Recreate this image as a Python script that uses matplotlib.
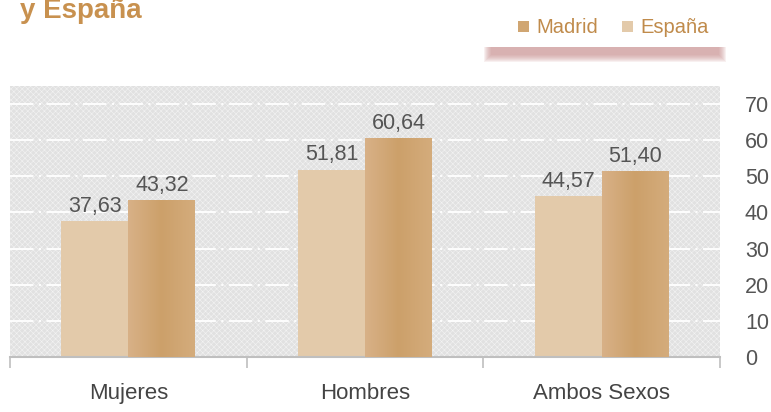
import matplotlib.pyplot as plt
import numpy as np
from matplotlib.colors import LinearSegmentedColormap
from matplotlib.patches import Rectangle

categories = ["Mujeres", "Hombres", "Ambos Sexos"]
espana = [37.63, 51.81, 44.57]
madrid = [43.32, 60.64, 51.40]
yticks = [0, 10, 20, 30, 40, 50, 60, 70]

W, H = 771, 412
madrid_col = "#d0a672"
espana_col = "#e3caaa"
label_col = "#c08b4b"
text_col = "#555555"

plt.rcParams["font.family"] = ["Liberation Sans", "DejaVu Sans"]
plt.rcParams["hatch.linewidth"] = 0.4

fig = plt.figure(figsize=(W / 100, H / 100), dpi=100)
ax = fig.add_axes([10 / W, 1 - 357 / H, 710 / W, 271 / H])

# fondo tramado
ax.set_facecolor("#e1e1e1")
bg = Rectangle((0, 0), 1, 1, transform=ax.transAxes, facecolor="none",
               edgecolor="#f3f3f3", hatch="xxxxxx", lw=0, zorder=0)
ax.add_patch(bg)

x = np.arange(len(categories))
bw = 0.283

for yv in yticks[1:]:
    ax.axhline(yv, color="white", lw=1.3, ls=(0, (13, 3, 1.2, 3)), zorder=1)

b1 = ax.bar(x - bw / 2, espana, bw, color=espana_col, zorder=2)
b2 = ax.bar(x + bw / 2, madrid, bw, color=madrid_col, zorder=2)

# degradado horizontal en las barras de Madrid
cmap = LinearSegmentedColormap.from_list("m", ["#d8b187", "#cca06a", "#d4ac7c"])
grad = np.linspace(0, 1, 100).reshape(1, -1)
for r in b2:
    x0, w, h = r.get_x(), r.get_width(), r.get_height()
    im = ax.imshow(grad, extent=[x0, x0 + w, 0, h], aspect="auto", cmap=cmap,
                   zorder=3)
    im.set_clip_path(r)

for xi, v in zip(x - bw / 2, espana):
    ax.text(xi, v + 1.2, f"{v:.2f}".replace(".", ","), ha="center", va="bottom",
            fontsize=15.5, color=text_col, zorder=4)
for xi, v in zip(x + bw / 2, madrid):
    ax.text(xi, v + 1.2, f"{v:.2f}".replace(".", ","), ha="center", va="bottom",
            fontsize=15.5, color=text_col, zorder=4)

ax.set_xlim(-0.5, 2.5)
ax.set_ylim(0, 75)

for s in ["top", "left", "right"]:
    ax.spines[s].set_visible(False)
ax.spines["bottom"].set_color("#bfbfbf")
ax.spines["bottom"].set_linewidth(1.5)

ax.yaxis.tick_right()
ax.set_yticks(yticks)
ax.tick_params(axis="y", length=0, pad=18, labelsize=15.5, labelcolor=text_col)
ax.set_xticks(x)
ax.set_xticklabels(categories)
ax.tick_params(axis="x", which="major", length=0, pad=19, labelsize=16,
               labelcolor="#444444")
ax.set_xticks([-0.5, 0.5, 1.5, 2.5], minor=True)
ax.tick_params(axis="x", which="minor", length=8, width=1.2, color="#bfbfbf")

# titulo (cortado arriba, como en el original)
fig.text(20 / W, 1 - 18 / H, "y España", fontsize=20, fontweight="bold",
         color="#c8914f", va="baseline", ha="left")

# leyenda con sombra
for i in range(8):
    fig.patches.append(Rectangle(((491 - i) / W, 1 - (55 + i) / H),
                                 (228 + 2 * i) / W, (8 + i) / H,
                                 transform=fig.transFigure,
                                 facecolor="#c98f8f", alpha=0.13, lw=0))
fig.patches.append(Rectangle((490 / W, 1 - 47 / H), 230 / W, 50 / H,
                             transform=fig.transFigure, facecolor="white",
                             lw=0))
fig.patches.append(Rectangle((518 / W, 1 - 32 / H), 11 / W, 11 / H,
                             transform=fig.transFigure, facecolor=madrid_col,
                             lw=0))
fig.patches.append(Rectangle((622 / W, 1 - 32 / H), 11 / W, 11 / H,
                             transform=fig.transFigure, facecolor=espana_col,
                             lw=0))
fig.text(536 / W, 1 - 33 / H, "Madrid", fontsize=14.5, color=label_col,
         va="baseline", ha="left")
fig.text(640 / W, 1 - 33 / H, "España", fontsize=14.5, color=label_col,
         va="baseline", ha="left")

fig.savefig("out.png", dpi=100)
